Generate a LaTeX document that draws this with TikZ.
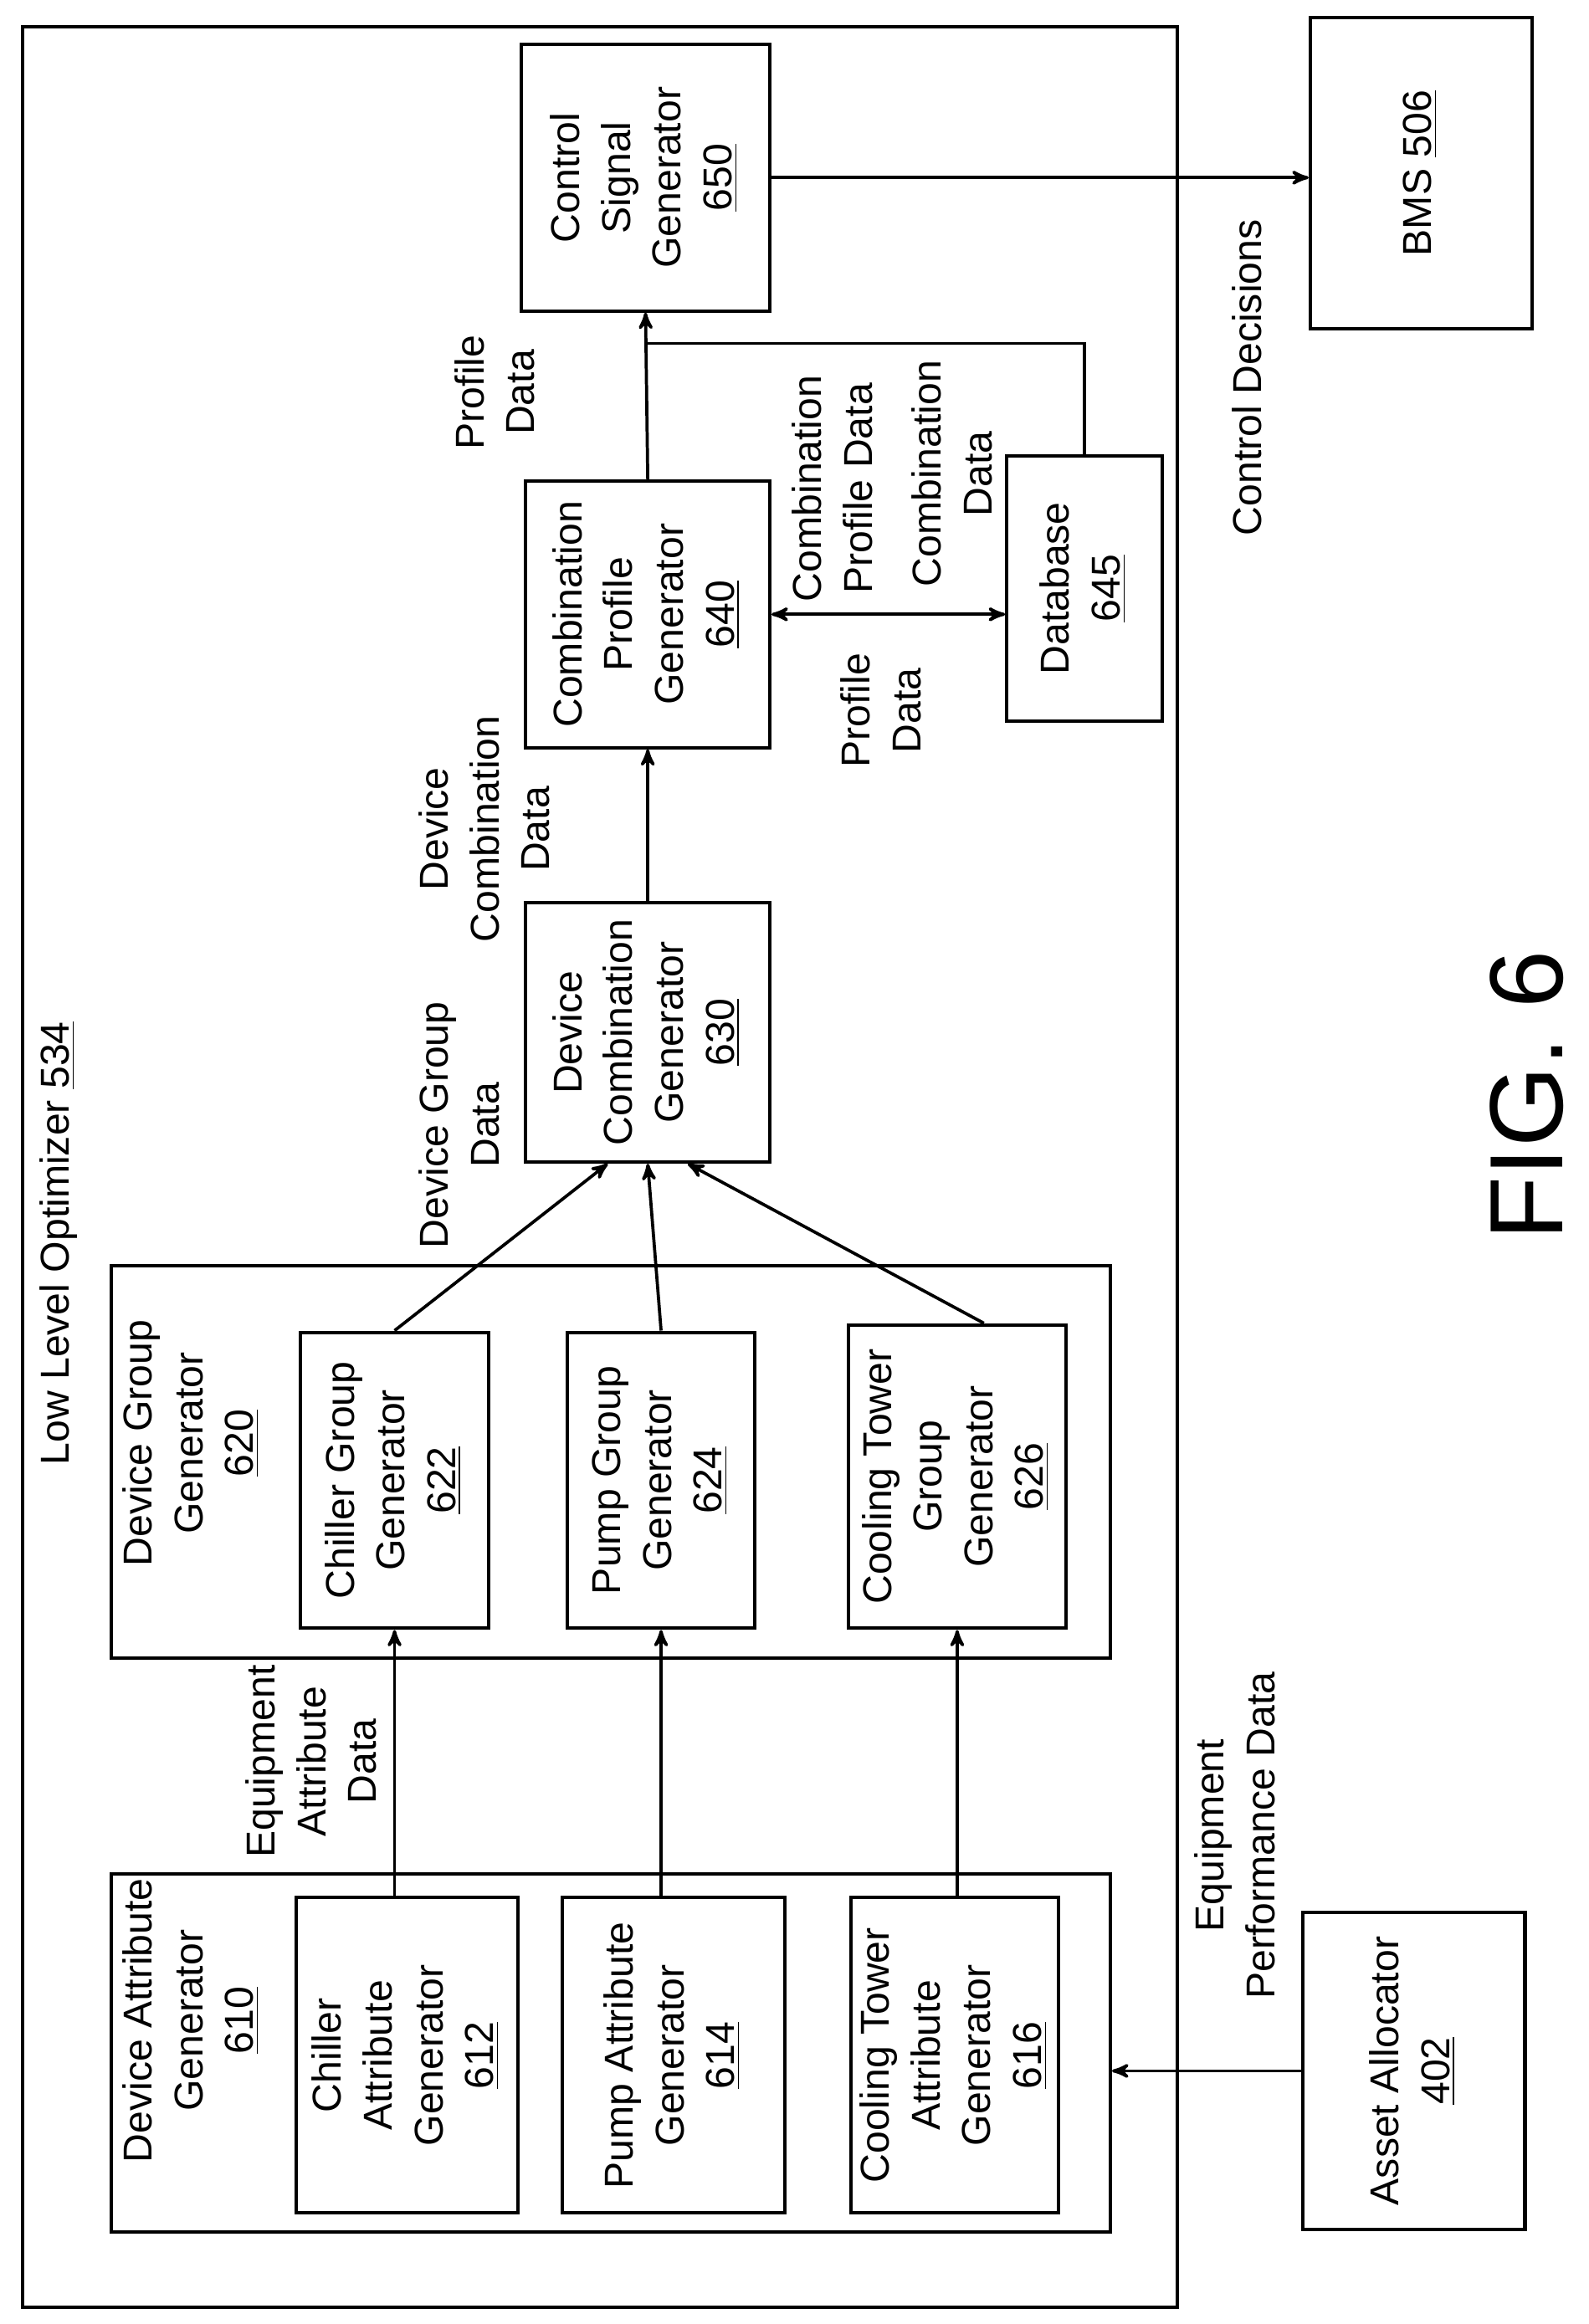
\documentclass[tikz,border=0pt]{standalone}
\usepackage{fontspec}
\setmainfont{Liberation Sans}
\usepackage{graphicx}
\usepackage{tikz}
\usetikzlibrary{arrows,calc}

\newcommand{\rot}[1]{\rotatebox{90}{\begin{tabular}{@{}c@{}}#1\end{tabular}}}
\tikzset{
  box/.style={draw, line width=1.3pt, inner sep=0pt},
  lbl/.style={inner sep=0pt},
  flow/.style={->, >=stealth', line width=1.2pt},
}

\begin{document}
\begin{tikzpicture}[x=0.02cm, y=-0.02cm, font=\fontsize{15.5}{19.5}\selectfont]
        \useasboundingbox (0,0) rectangle (1073,1570);

        % the containers
        \node[box, minimum width=15.6cm, minimum height=30.82cm] (llo) at (405,788.5) {};
        \node[lbl] (llot) at (40,840) {\rot{Low Level Optimizer \underline{534}}};
        \node[box, minimum width=13.5cm, minimum height=4.84cm] (dag) at (412.5,1387) {};
        \node[lbl] (dagt) at (130,1365) {\rot{Device Attribute\\Generator\\\underline{610}}};
        \node[box, minimum width=13.5cm, minimum height=5.3cm] (dgg) at (412.5,987.5) {};
        \node[lbl] (dggt) at (130,975) {\rot{Device Group\\Generator\\\underline{620}}};

        % the blocks
        \node[box, minimum width=3cm, minimum height=4.26cm] (cag) at (275,1388.5) {\rot{Chiller\\Attribute\\Generator\\\underline{612}}};
        \node[box, minimum width=3cm, minimum height=4.26cm] (pag) at (455,1388.5) {\rot{Pump Attribute\\Generator\\\underline{614}}};
        \node[box, minimum width=2.8cm, minimum height=4.26cm] (tag) at (645,1388.5) {\rot{Cooling Tower\\Attribute\\Generator\\\underline{616}}};
        \node[box, minimum width=2.54cm, minimum height=4cm] (cgg) at (266.5,1000) {\rot{Chiller Group\\Generator\\\underline{622}}};
        \node[box, minimum width=2.54cm, minimum height=4cm] (pgg) at (446.5,1000) {\rot{Pump Group\\Generator\\\underline{624}}};
        \node[box, minimum width=2.94cm, minimum height=4.1cm] (tgg) at (646.5,997.5) {\rot{Cooling Tower\\Group\\Generator\\\underline{626}}};
        \node[box, minimum width=3.3cm, minimum height=3.5cm] (dcg) at (437.5,697.5) {\rot{Device\\Combination\\Generator\\\underline{630}}};
        \node[box, minimum width=3.3cm, minimum height=3.6cm] (cpg) at (437.5,415) {\rot{Combination\\Profile\\Generator\\\underline{640}}};
        \node[box, minimum width=2.1cm, minimum height=3.58cm] (db) at (732.5,397.5) {\rot{Database\\\underline{645}}};
        \node[box, minimum width=3.36cm, minimum height=3.6cm] (csg) at (436,120) {\rot{Control\\Signal\\Generator\\\underline{650}}};
        \node[box, minimum width=3cm, minimum height=4.2cm] (bms) at (960,117) {\rot{BMS \underline{506}}};
        \node[box, minimum width=3cm, minimum height=4.28cm] (aa) at (955,1399) {\rot{Asset Allocator\\\underline{402}}};
        \coordinate (jn) at (436,232);

        % the texts
        \node[lbl] (l1) at (213,1190) {\rot{Equipment\\Attribute\\Data}};
        \node[lbl] (l2) at (313,760) {\rot{Device Group\\Data}};
        \node[lbl] (l3) at (330,560) {\rot{Device\\Combination\\Data}};
        \node[lbl] (l4) at (337,265) {\rot{Profile\\Data}};
        \node[lbl] (l5) at (565,330) {\rot{Combination\\Profile Data}};
        \node[lbl] (l6) at (646,320) {\rot{Combination\\Data}};
        \node[lbl] (l7) at (598,480) {\rot{Profile\\Data}};
        \node[lbl] (l8) at (845,255) {\rot{Control Decisions}};
        \node[lbl] (l9) at (837,1240) {\rot{Equipment\\Performance Data}};
        \node[lbl, font=\fontsize{40}{44}\selectfont] (fig) at (1040,740) {\rot{FIG. 6}};

        % draw the arrows
        \draw[flow] (cag.north -| cgg.south) -- (cgg.south);
        \draw[flow] (pag.north -| pgg.south) -- (pgg.south);
        \draw[flow] (tag.north -| tgg.south) -- (tgg.south);
        \draw[flow] (cgg.north) -- ($(dcg.south)+(-27,0)$);
        \draw[flow] (pgg.north) -- (dcg.south);
        \draw[flow] ($(tgg.north)+(18,0)$) -- ($(dcg.south)+(27,0)$);
        \draw[flow] (dcg.north) -- (cpg.south);
        \draw[flow] (cpg.north) -- (csg.south);
        \draw[flow, <->] (cpg.east) -- (cpg.east -| db.west);
        \draw[line width=1.2pt] (db.north) |- (jn);
        \draw[flow] (csg.east) -- (csg.east -| bms.west);
        \draw[flow] (aa.west) -- (aa.west -| dag.east);

\end{tikzpicture}
\end{document}
